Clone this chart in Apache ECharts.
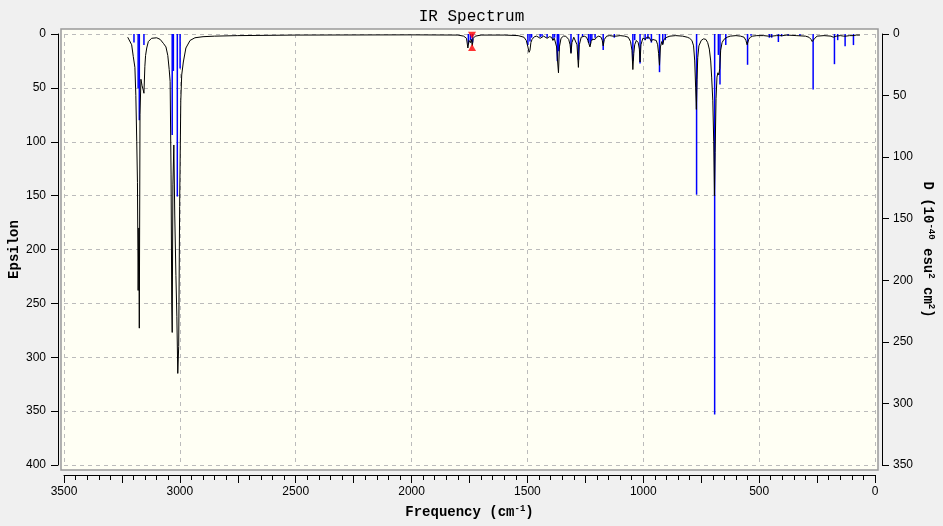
<!DOCTYPE html>
<html>
<head>
<meta charset="utf-8">
<script src="https://cdn.jsdelivr.net/npm/echarts@6.0.0/dist/echarts.min.js"></script>
<style>
html,body{margin:0;padding:0;background:#F0F0F0;}
#main{width:943px;height:526px;}
</style>
</head>
<body>
<div id="main"></div>
<script>
// ---- tick labels ----
const xLabels = [0, 500, 1000, 1500, 2000, 2500, 3000, 3500];
const leftLabels = [0, 50, 100, 150, 200, 250, 300, 350, 400];
const rightLabels = [0, 50, 100, 150, 200, 250, 300, 350];

// ---- blue sticks: frequency (cm-1) and D (1e-40 esu^2 cm^2) ----
const stickFreq = [3198,3180,3175,3155,3033,3028,3011,2999,1755,1746,1737,1498,1489,1482,1445,1437,1415,1390,1383,1371,1365,1312,1280,1262,1236,1229,1222,1208,1173,1125,1045,1037,1014,992,980,965,930,916,905,770,692,676,669,644,550,535,456,446,417,403,375,324,267,175,161,129,93];
const stickD    = [7,44,70,9,82,30,132,28,8,5,7,9,6,3,2.5,2,3,4,3,22,14,15,21,2,7,9,5,3,13,3,22,5,24,5,4,7,31,8,5,130.5,309,17,41,9,25,1.5,3,3,6.5,2,1.5,1.5,45,24.5,5,10,9];

// ---- black spectrum: frequency (cm-1) and epsilon ----
const specFreq = [3225,3218,3208,3201,3194,3190,3186,3183,3180,3177,3175,3172,3168,3163,3158,3155,3151,3148,3143,3136,3122,3100,3085,3070,3060,3052,3046,3042,3038,3035,3033,3030,3026,3022,3017,3013,3009,3005,3001,2996,2992,2985,2974,2956,2935,2900,2850,2750,2500,2000,1800,1775,1763,1757,1752,1749,1746,1742,1738,1734,1725,1700,1600,1540,1515,1505,1498,1493,1489,1485,1480,1470,1460,1452,1445,1438,1430,1422,1415,1405,1396,1390,1384,1378,1374,1370,1366,1362,1355,1345,1335,1322,1316,1312,1308,1300,1292,1286,1280,1276,1268,1262,1255,1245,1239,1235,1230,1225,1220,1214,1208,1202,1192,1182,1177,1173,1168,1158,1145,1130,1125,1118,1100,1080,1065,1055,1049,1045,1041,1037,1030,1022,1017,1014,1010,1002,995,990,985,980,975,970,965,960,952,944,938,934,930,926,920,916,911,905,898,885,860,830,810,800,790,783,778,774,771,768,765,760,750,740,730,722,715,709,705,700,696,693,690,686,682,678,674,670,666,660,652,645,638,625,600,580,565,557,552,549,545,538,528,510,480,460,452,446,438,425,418,412,400,380,340,300,285,276,271,268,265,260,250,220,190,180,176,173,168,160,150,135,129,125,110,95,80,65];
const specEps  = [3,4,10,21,31,57,100,138,238,180,273,75,42,48,52,55,30,20,13,7,4,3.5,5,9,12,20,33,44,130,250,277,140,103,168,224,262,315,290,160,62,38,26,13,6,3.5,2.5,2,1.5,1,0.8,1,2,4,13,6,5,8,5,11,4,2,1,1,1.5,3,6,12,17,15,8,5,2.5,2,2.5,4,3,2,2.5,4,2.5,3,6,4,5,12,25,36,12,4,2,2,5,10,18,8,3,4,10,31,10,3,3,2,3,6,9,12,7,5,4,5,3,2,3,6,11,5,2,1.5,2,3,2,1.5,2,3,7,15,33,18,10,6,8,14,26,10,4,4,5,3,4,3,4,7,5,4,6,10,18,29,12,7,10,5,5,3,2,1.5,2,3,4,6,11,25,50,70,42,22,11,6,4.5,5,8,14,25,40,62,100,150,110,60,40,36,38,32,15,8,5,5,3,2,1.5,2,3,6,10,9,5,3,2,1.5,1.5,2,2.5,2,1.5,1.5,2.5,1.5,1.5,1,1.5,2,3,5,7,8,6,4,2,1.5,2,3,4,3,2,2,1.5,2,2.5,2,1.5,1.5,1,1];

// ---- selected-peak marker (red) ----
const markFreq = 1739;
const markTopEps = 1.2;
const markBottomEps = 12.5;

const sticks = stickFreq.map((f, i) => [f, stickD[i]]);
const spectrum = specFreq.map((f, i) => [f, specEps[i]]);

const plain = v => String(v);
const labelFont = {fontFamily: 'Liberation Sans Narrow, Arial Narrow, Liberation Sans, sans-serif', fontSize: 12, color: '#000'};
const nameFont = {fontFamily: 'Liberation Mono, DejaVu Sans Mono, monospace', fontSize: 14, fontWeight: 'bold', color: '#000'};
const supFont = {fontFamily: 'Liberation Mono, monospace', fontSize: 9, fontWeight: 'bold', color: '#000', padding: [0, 0, 8, 0]};

const chart = echarts.init(document.getElementById('main'));
chart.setOption({
  backgroundColor: '#F0F0F0',
  animation: false,
  title: {
    text: 'IR Spectrum', left: 'center', top: 4,
    textStyle: {fontFamily: 'Liberation Mono, DejaVu Sans Mono, monospace', fontSize: 16, fontWeight: 'normal', color: '#000'}
  },
  graphic: [{
    type: 'rect', z: -10, silent: true,
    shape: {x: 61, y: 29, width: 817, height: 441},
    style: {fill: '#FFFFF4', stroke: '#999999', lineWidth: 1.5}
  }],
  grid: {left: 64, right: 68, top: 34, bottom: 61, containLabel: false, outerBoundsMode: 'none'},
  xAxis: [{
    type: 'value', min: 0, max: 3500, interval: 250, inverse: true, position: 'bottom', offset: 10,
    axisLine: {show: true, onZero: false, lineStyle: {color: '#000', width: 1}},
    axisTick: {show: true, length: 8, lineStyle: {color: '#000'}},
    minorTick: {show: true, splitNumber: 5, length: 5, lineStyle: {color: '#000'}},
    axisLabel: Object.assign({customValues: xLabels, margin: 11, formatter: plain}, labelFont),
    splitLine: {show: false},
    name: '{a|Frequency (cm}{s|-1}{a|)}', nameLocation: 'middle', nameGap: 29, nameMoveOverlap: false,
    nameTextStyle: {rich: {a: nameFont, s: supFont}}
  }, {
    type: 'value', min: 0, max: 3500, interval: 500, inverse: true, position: 'top',
    axisLine: {show: false}, axisTick: {show: false}, axisLabel: {show: false},
    splitLine: {show: true, lineStyle: {color: '#BBBBBB', type: [4, 4], width: 1}}
  }],
  yAxis: [{
    type: 'value', min: 0, max: 400, interval: 50, inverse: true, position: 'left', offset: 6,
    axisLine: {show: true, onZero: false, lineStyle: {color: '#000'}},
    axisTick: {show: true, length: 7, lineStyle: {color: '#000'}},
    axisLabel: Object.assign({customValues: leftLabels, margin: 12, formatter: plain}, labelFont),
    splitLine: {show: true, lineStyle: {color: '#BBBBBB', type: [4, 4], width: 1}},
    name: 'Epsilon', nameLocation: 'middle', nameGap: 37, nameMoveOverlap: false, nameTextStyle: nameFont
  }, {
    type: 'value', min: 0, max: 350, interval: 50, inverse: true, position: 'right', offset: 7,
    axisLine: {show: true, onZero: false, lineStyle: {color: '#000'}},
    axisTick: {show: true, length: 7, lineStyle: {color: '#000'}},
    axisLabel: Object.assign({customValues: rightLabels, margin: 11, formatter: plain}, labelFont),
    splitLine: {show: false},
    name: '{a|D (10}{s|-40}{a| esu}{s|2}{a| cm}{s|2}{a|)}', nameLocation: 'middle', nameGap: 37, nameRotate: -90, nameMoveOverlap: false,
    nameTextStyle: {rich: {a: nameFont, s: supFont}}
  }],
  series: [{
    type: 'custom', xAxisIndex: 0, yAxisIndex: 1, clip: false, silent: true,
    data: sticks,
    renderItem: function (params, api) {
      const p0 = api.coord([api.value(0), 0]);
      const p1 = api.coord([api.value(0), api.value(1)]);
      return {type: 'line', shape: {x1: p0[0], y1: p0[1], x2: p1[0], y2: p1[1]},
              style: {stroke: '#0000FF', lineWidth: 1.5}};
    },
    z: 2
  }, {
    type: 'line', xAxisIndex: 0, yAxisIndex: 0, data: spectrum, showSymbol: false, silent: true,
    lineStyle: {color: '#000', width: 1}, z: 3
  }, {
    type: 'scatter', xAxisIndex: 0, yAxisIndex: 0, clip: false, silent: true,
    data: [[markFreq, markTopEps]], symbol: 'triangle', symbolRotate: 180, symbolSize: [8, 7],
    itemStyle: {color: '#FF0000'}, z: 4
  }, {
    type: 'scatter', xAxisIndex: 0, yAxisIndex: 0, clip: false, silent: true,
    data: [[markFreq, markBottomEps]], symbol: 'triangle', symbolSize: [8, 7],
    itemStyle: {color: '#FF0000'}, z: 4
  }]
});
</script>
</body>
</html>
